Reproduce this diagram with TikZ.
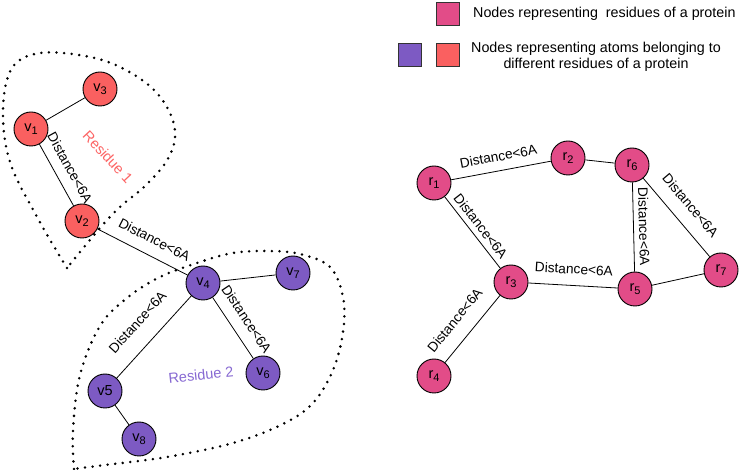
\documentclass[tikz,border=0pt]{standalone}
\usepackage{fontspec}
\setmainfont{Liberation Sans}
\definecolor{atomred}{RGB}{250,96,96}
\definecolor{atompurple}{RGB}{125,90,195}
\definecolor{respink}{RGB}{226,76,136}
\definecolor{labred}{RGB}{252,100,100}
\definecolor{labpurple}{RGB}{135,105,210}
\newcommand{\nsubx}[1]{\raisebox{-0.4ex}{\fontsize{11}{11}\selectfont #1}}
\begin{document}
\begin{tikzpicture}[x=1pt,y=-1pt,
  nd/.style={circle,draw=black,line width=0.9pt,minimum size=34pt,inner sep=0pt,font=\fontsize{14.5}{14}\selectfont},
  rednd/.style={nd,fill=atomred},
  purnd/.style={nd,fill=atompurple},
  pinknd/.style={nd,fill=respink},
  edg/.style={draw=black,line width=0.8pt},
  dl/.style={sloped,font=\fontsize{13.7}{14}\selectfont,inner sep=2pt},
  blob/.style={line width=2.8pt,line cap=round,dash pattern=on 0pt off 7.6pt},
  sq/.style={draw=black!80,line width=0.9pt}]
\useasboundingbox (0,0) rectangle (740,470);

% residue outlines
\draw[blob] plot[smooth,tension=0.6] coordinates {(67,268) (37,217) (10,162) (3,110) (12,68) (40,53) (85,56) (120,67) (152,88) (170,113) (175,138) (166,162) (145,186) (120,207) (100,228) (67,268)};
\draw[blob] plot[smooth,tension=0.6] coordinates {(74,469) (73,430) (80,375) (100,326) (127,298) (160,277) (200,262) (233,253) (267,251) (300,254) (330,267) (343,297) (343,332) (333,370) (313,403) (283,424) (233,443) (167,457) (105,465) (74,469)};

% atom nodes
\node[rednd] (v3) at (100,89) {v\nsubx{3}};
\node[rednd] (v1) at (31,129) {v\nsubx{1}};
\node[rednd] (v2) at (82,221) {v\nsubx{2}};
\node[purnd] (v4) at (203,283) {v\nsubx{4}};
\node[purnd] (v7) at (293,273) {v\nsubx{7}};
\node[purnd] (v6) at (263,373) {v\nsubx{6}};
\node[purnd] (v5) at (105,391) {v5};
\node[purnd] (v8) at (139,439) {v\nsubx{8}};

\node[text=labred,rotate=-47,font=\fontsize{14.5}{14}\selectfont] (res1) at (108,157) {Residue 1};
\node[text=labpurple,rotate=6,font=\fontsize{14.5}{14}\selectfont] (res2) at (201,375) {Residue 2};

\draw[edg] (v1) -- (v3);
\draw[edg] (v1) -- node[dl,above=8pt] (l1) {Distance<6A} (v2);
\draw[edg] (v2) -- node[dl,above=9pt,pos=0.55] (l2) {Distance<6A} (v4);
\draw[edg] (v4) -- (v7);
\draw[edg] (v4) -- node[dl,above=9pt] (l3) {Distance<6A} (v6);
\draw[edg] (v5) -- node[dl,above=15pt] (l4) {Distance<6A} (v4);
\draw[edg] (v5) -- (v8);

% residue nodes
\node[pinknd] (r1) at (434,183) {r\nsubx{1}};
\node[pinknd] (r2) at (568,158) {r\nsubx{2}};
\node[pinknd] (r6) at (632,165) {r\nsubx{6}};
\node[pinknd] (r7) at (721,270) {r\nsubx{7}};
\node[pinknd] (r3) at (511,282) {r\nsubx{3}};
\node[pinknd] (r5) at (635,289) {r\nsubx{5}};
\node[pinknd] (r4) at (434,376) {r\nsubx{4}};

\draw[edg] (r1) -- node[dl,above=7pt] (l5) {Distance<6A} (r2);
\draw[edg] (r2) -- (r6);
\draw[edg] (r1) -- node[dl,above=3pt] (l6) {Distance<6A} (r3);
\draw[edg] (r3) -- node[dl,above=9pt] (l7) {Distance<6A} (r5);
\draw[edg] (r6) -- node[dl,above=3pt] (l8) {Distance<6A} (r5);
\draw[edg] (r6) -- node[dl,above=11pt] (l9) {Distance<6A} (r7);
\draw[edg] (r5) -- (r7);
\draw[edg] (r4) -- node[dl,above=12pt,pos=0.45] (l10) {Distance<6A} (r3);

% legend
\node[sq,fill=respink,minimum size=23pt,inner sep=0pt] (k1) at (447.5,13.5) {};
\node[anchor=west,inner sep=0pt,font=\fontsize{14.3}{16}\selectfont] (t1) at (473,13.5) {Nodes representing\ \ residues of a protein};
\node[sq,fill=atompurple,minimum size=23pt,inner sep=0pt] (k2) at (409.5,55) {};
\node[sq,fill=atomred,minimum size=23pt,inner sep=0pt] (k3) at (447.5,55) {};
\node[align=center,inner sep=0pt,font=\fontsize{14.3}{16}\selectfont] (t2) at (596,57) {Nodes representing atoms belonging to\\different residues of a protein};
\end{tikzpicture}
\end{document}
